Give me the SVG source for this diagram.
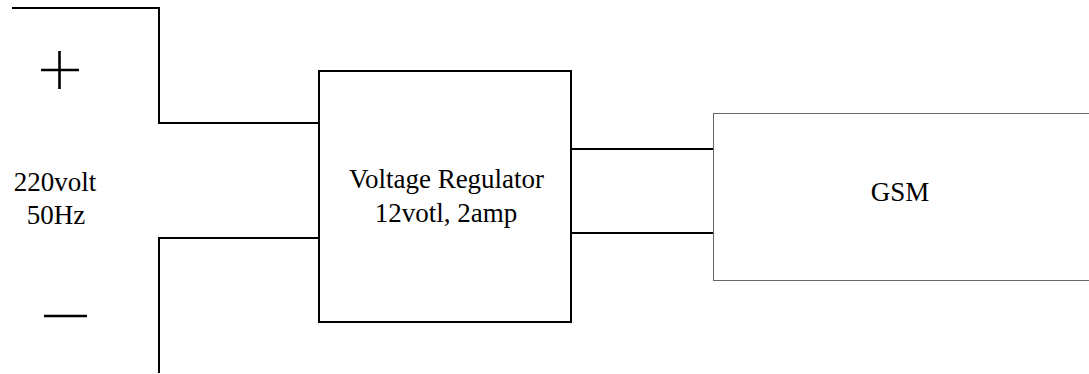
<svg xmlns="http://www.w3.org/2000/svg" width="1089" height="374" viewBox="0 0 1089 374">
<style>
.w{fill:none;stroke:#000;stroke-width:2}
.s{fill:none;stroke:#000;stroke-width:2.6}
.t{font-family:"Liberation Serif","Times New Roman",serif;font-size:27px;fill:#000;text-anchor:middle}
</style>
<rect width="1089" height="374" fill="#fff"/>
<g id="source">
<path class="s" d="M41 70H79M59.5 51V89"/>
<path class="s" d="M44 316H87"/>
<text class="t" x="55" y="191">220volt</text>
<text class="t" x="56" y="224">50Hz</text>
</g>
<g id="connectors">
<path class="w" d="M12 8H159V123H319"/>
<path class="w" d="M159 373V238H319"/>
<path class="w" d="M571 149H714"/>
<path class="w" d="M571 233H714"/>
</g>
<g id="regulator">
<rect x="319" y="71" width="252" height="251" fill="#fff" stroke="#000" stroke-width="2"/>
<text class="t" x="446.5" y="188">Voltage Regulator</text>
<text class="t" x="446" y="222">12votl, 2amp</text>
</g>
<g id="gsm">
<rect x="713.5" y="113.5" width="390" height="167" fill="#fff" stroke="#666" stroke-width="1"/>
<text class="t" x="900" y="201">GSM</text>
</g>
</svg>
